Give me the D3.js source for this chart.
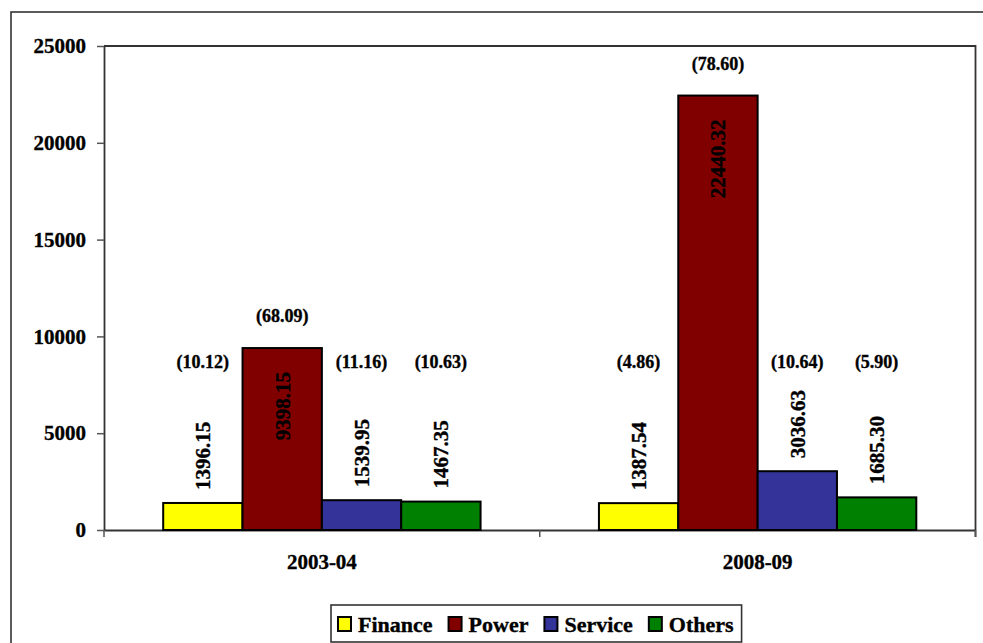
<!DOCTYPE html>
<html>
<head>
<meta charset="utf-8">
<script src="https://cdn.jsdelivr.net/npm/d3@7"></script>
<style>
  html, body { margin: 0; padding: 0; background: #fff; }
  svg text { font-family: "Liberation Serif", "Times New Roman", Times, serif !important; font-weight: bold; stroke: #000; stroke-width: 0.35px; }
</style>
</head>
<body>
<svg id="chart" width="983" height="643"></svg>
<script>
// Sector-wise amounts for the two years
const years = ["2003-04", "2008-09"];
const sectors = ["Finance", "Power", "Service", "Others"];
const finance = [1396.15, 1387.54];
const power = [9398.15, 22440.32];
const service = [1539.95, 3036.63];
const others = [1467.35, 1685.30];
// Percentage share of each sector in the year's total
const financeShare = [10.12, 4.86];
const powerShare = [68.09, 78.60];
const serviceShare = [11.16, 10.64];
const othersShare = [10.63, 5.90];
const yTicks = [0, 5000, 10000, 15000, 20000, 25000];
const colors = ["#ffff00", "#800000", "#333399", "#008000"];

const seriesValues = [finance, power, service, others];
const seriesShares = [financeShare, powerShare, serviceShare, othersShare];
const rows = [];
years.forEach((yr, i) => {
  sectors.forEach((s, j) => {
    rows.push({ year: yr, sector: s, value: seriesValues[j][i], share: seriesShares[j][i], color: colors[j] });
  });
});

const svg = d3.select("#chart");
const plot = { left: 104, right: 975.5, top: 46, bottom: 530 };

// Outer chart frame
svg.append("rect")
  .attr("x", 11).attr("y", 12).attr("width", 1000).attr("height", 700)
  .attr("fill", "none").attr("stroke", "#333").attr("stroke-width", 1.6);

const x0 = d3.scaleBand().domain(years).range([plot.left, plot.right]).paddingInner(0).paddingOuter(0);
const x1 = d3.scaleBand().domain(sectors).range([0, x0.bandwidth()]).paddingInner(0).paddingOuter(0.746);
const y = d3.scaleLinear().domain([0, 25000]).range([plot.bottom, plot.top]);

// Plot area border (top and right)
svg.append("path")
  .attr("d", `M${plot.left},${plot.top}H${plot.right}V${plot.bottom + 7}`)
  .attr("fill", "none").attr("stroke", "#333").attr("stroke-width", 1.8);

// Y axis
const yAxis = svg.append("g")
  .attr("transform", `translate(${plot.left},0)`)
  .call(d3.axisLeft(y).tickValues(yTicks).tickFormat(d3.format("d")).tickSize(7).tickSizeOuter(0).tickPadding(11));
yAxis.select(".domain").attr("stroke", "#333").attr("stroke-width", 1.8);
yAxis.selectAll(".tick line").attr("stroke", "#555").attr("stroke-width", 1.5);
yAxis.selectAll("text").attr("font-size", 21).attr("fill", "#000");

// X axis: labels centred under each year, ticks at the year boundaries
const xAxis = svg.append("g")
  .attr("transform", `translate(0,${plot.bottom})`)
  .call(d3.axisBottom(x0).tickSize(0).tickPadding(24));
xAxis.select(".domain").attr("stroke", "#333").attr("stroke-width", 2.2);
xAxis.selectAll("text").attr("font-size", 21).attr("fill", "#000");
const boundaries = years.map(d => x0(d)).concat([x0(years[years.length - 1]) + x0.bandwidth()]);
xAxis.selectAll("line.bound").data(boundaries).enter().append("line")
  .attr("class", "bound")
  .attr("x1", d => d).attr("x2", d => d).attr("y1", 0).attr("y2", 7)
  .attr("stroke", "#555").attr("stroke-width", 1.5);

// Bars
const groups = svg.append("g").selectAll("g")
  .data(years).enter().append("g")
  .attr("transform", d => `translate(${x0(d)},0)`);

groups.selectAll("rect")
  .data(yr => rows.filter(r => r.year === yr))
  .enter().append("rect")
  .attr("x", d => x1(d.sector))
  .attr("y", d => y(d.value))
  .attr("width", x1.bandwidth())
  .attr("height", d => y(0) - y(d.value))
  .attr("fill", d => d.color)
  .attr("stroke", "#000").attr("stroke-width", 2);

// Value labels, rotated; tall bars carry them inside their top end
const isInside = d => (y(0) - y(d.value)) > 150;
groups.selectAll("text.val")
  .data(yr => rows.filter(r => r.year === yr))
  .enter().append("text")
  .attr("class", "val")
  .attr("font-size", 21).attr("fill", "#000")
  .attr("text-anchor", d => isInside(d) ? "end" : "start")
  .attr("dy", "0.35em")
  .attr("transform", d => {
    const cx = x1(d.sector) + x1.bandwidth() / 2;
    const cy = isInside(d) ? y(d.value) + 24 : y(d.value) - 13;
    return `translate(${cx},${cy}) rotate(-90)`;
  })
  .text(d => d3.format(".2f")(d.value));

// Share labels in brackets
groups.selectAll("text.share")
  .data(yr => rows.filter(r => r.year === yr))
  .enter().append("text")
  .attr("class", "share")
  .attr("font-size", 18).attr("fill", "#000")
  .attr("text-anchor", "middle")
  .attr("dy", "0.35em")
  .attr("x", d => x1(d.sector) + x1.bandwidth() / 2)
  .attr("y", d => isInside(d) ? y(d.value) - 32 : 362)
  .text(d => `(${d3.format(".2f")(d.share)})`);

// Legend
const legend = svg.append("g");
const legendBox = legend.append("rect")
  .attr("fill", "#fff").attr("stroke", "#333").attr("stroke-width", 1.6);
let lx = 338;
const ly = 624;
sectors.forEach((s, j) => {
  legend.append("rect")
    .attr("x", lx).attr("y", ly - 7).attr("width", 13).attr("height", 14)
    .attr("fill", colors[j]).attr("stroke", "#000").attr("stroke-width", 2);
  const t = legend.append("text")
    .attr("x", lx + 20).attr("y", ly).attr("dy", "0.35em")
    .attr("font-size", 22).attr("fill", "#000")
    .text(s);
  lx += 20 + t.node().getComputedTextLength() + 16;
});
legendBox.attr("x", 331).attr("y", 605).attr("width", lx - 16 + 8 - 331).attr("height", 37);
</script>
</body>
</html>
